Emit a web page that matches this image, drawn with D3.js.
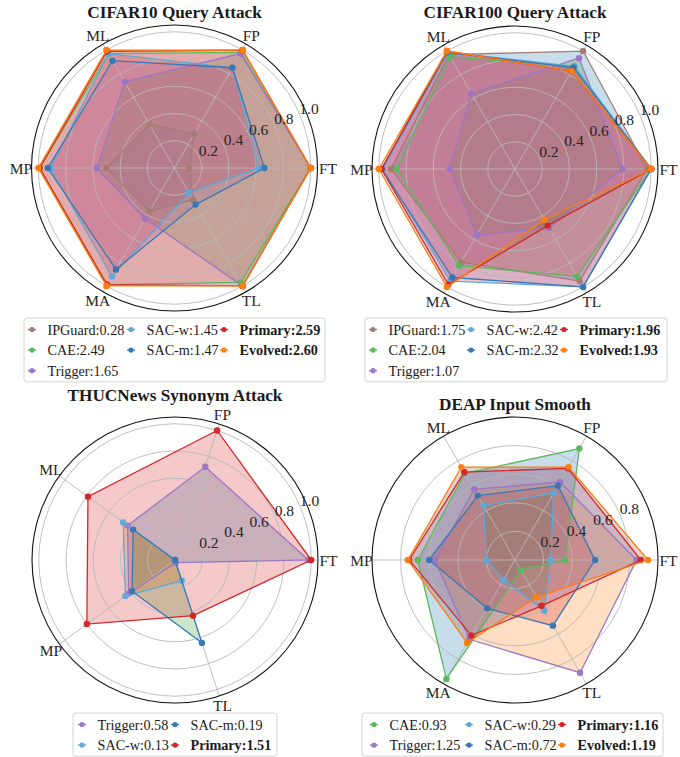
<!DOCTYPE html>
<html>
<head>
<meta charset="utf-8">
<script src="https://cdn.jsdelivr.net/npm/d3@7"></script>
<style>
  html, body { margin: 0; padding: 0; background: #fff; }
  svg { display: block; }
  text { font-family: "Liberation Serif", "Times New Roman", serif; }
</style>
</head>
<body>
<svg id="chart" width="680" height="757"></svg>
<script>
// ---- Axis (metric) names ----
const axesSix = ["FT", "FP", "ML", "MP", "MA", "TL"];
const axesFive = ["FT", "FP", "ML", "MP", "TL"];

// ---- Radial tick labels ----
const ticksFull = [0.2, 0.4, 0.6, 0.8, 1.0];
const ticksShort = [0.2, 0.4, 0.6, 0.8];

// ---- CIFAR10 Query Attack ----
const cifar10Methods = ["IPGuard", "CAE", "Trigger", "SAC-w", "SAC-m", "Primary", "Evolved"];
const cifar10Scores = ["0.28", "2.49", "1.65", "1.45", "1.47", "2.59", "2.60"];
const cifar10IPGuard = [0.11, 0.29, 0.37, 0.50, 0.37, 0.27];
const cifar10CAE = [1.00, 0.98, 0.97, 0.99, 0.99, 0.97];
const cifar10Trigger = [1.00, 0.97, 0.73, 0.57, 0.43, 1.00];
const cifar10SACw = [0.62, 0.85, 0.97, 0.91, 0.92, 0.21];
const cifar10SACm = [0.66, 0.85, 0.91, 0.93, 0.86, 0.31];
const cifar10Primary = [1.00, 1.00, 0.99, 0.99, 0.99, 1.00];
const cifar10Evolved = [1.00, 1.00, 1.00, 1.00, 1.00, 1.00];

// ---- CIFAR100 Query Attack ----
const cifar100Methods = ["IPGuard", "CAE", "Trigger", "SAC-w", "SAC-m", "Primary", "Evolved"];
const cifar100Scores = ["1.75", "2.04", "1.07", "2.42", "2.32", "1.96", "1.93"];
const cifar100IPGuard = [0.97, 1.00, 0.97, 0.91, 0.79, 0.95];
const cifar100CAE = [1.00, 0.87, 0.95, 0.87, 0.82, 0.91];
const cifar100Trigger = [0.79, 0.94, 0.64, 0.48, 0.56, 0.50];
const cifar100SACw = [1.00, 0.87, 0.99, 0.97, 0.95, 1.00];
const cifar100SACm = [1.00, 0.86, 0.99, 0.98, 0.92, 1.00];
const cifar100Primary = [1.00, 0.83, 1.00, 0.98, 0.98, 0.48];
const cifar100Evolved = [1.00, 0.83, 1.00, 1.00, 1.00, 0.43];

// ---- THUCNews Synonym Attack ----
const thucMethods = ["Trigger", "SAC-w", "SAC-m", "Primary"];
const thucScores = ["0.58", "0.13", "0.19", "1.51"];
const thucTrigger = [0.98, 0.72, 0.43, 0.42, 0.02];
const thucSACw = [0.00, 0.00, 0.47, 0.45, 0.16];
const thucSACm = [0.00, 0.00, 0.38, 0.39, 0.64];
const thucPrimary = [1.00, 1.00, 0.79, 0.80, 0.43];

// ---- DEAP Input Smooth ----
const deapMethods = ["CAE", "Trigger", "SAC-w", "SAC-m", "Primary", "Evolved"];
const deapScores = ["0.93", "1.25", "0.29", "0.72", "1.16", "1.19"];
const deapCAE = [0.35, 0.90, 0.70, 0.68, 0.96, 0.08];
const deapTrigger = [0.85, 0.63, 0.57, 0.56, 0.64, 0.91];
const deapSACw = [0.25, 0.54, 0.44, 0.20, 0.16, 0.41];
const deapSACm = [0.56, 0.60, 0.52, 0.60, 0.39, 0.53];
const deapPrimary = [0.88, 0.74, 0.71, 0.74, 0.61, 0.37];
const deapEvolved = [0.93, 0.75, 0.75, 0.75, 0.67, 0.30];

// ---- Styling ----
const lineColor = {
  "IPGuard": "#a47c72",
  "CAE": "#5cb85c",
  "Trigger": "#9d76c6",
  "SAC-w": "#5fa8d8",
  "SAC-m": "#3a78b5",
  "Primary": "#d62728",
  "Evolved": "#ff7f0e"
};
const boldMethods = new Set(["Primary", "Evolved"]);
const fillPalette = d3.schemeCategory10;
const fillOpacity = 0.25;

const panels = [
  {
    title: "CIFAR10 Query Attack", axes: axesSix, ticks: ticksFull, rmax: 1.05,
    methods: cifar10Methods, scores: cifar10Scores,
    values: [cifar10IPGuard, cifar10CAE, cifar10Trigger, cifar10SACw, cifar10SACm, cifar10Primary, cifar10Evolved],
    cx: 174.5, cy: 168, R: 143, titleY: 18,
    legend: { x: 24, y: 318, w: 301, cols: 3, colX: [8, 107, 200] }
  },
  {
    title: "CIFAR100 Query Attack", axes: axesSix, ticks: ticksFull, rmax: 1.05,
    methods: cifar100Methods, scores: cifar100Scores,
    values: [cifar100IPGuard, cifar100CAE, cifar100Trigger, cifar100SACw, cifar100SACm, cifar100Primary, cifar100Evolved],
    cx: 515, cy: 169, R: 143, titleY: 18,
    legend: { x: 365, y: 318, w: 302, cols: 3, colX: [8, 106, 199] }
  },
  {
    title: "THUCNews Synonym Attack", axes: axesFive, ticks: ticksFull, rmax: 1.05,
    methods: thucMethods, scores: thucScores,
    values: [thucTrigger, thucSACw, thucSACm, thucPrimary],
    cx: 175, cy: 560, R: 143, titleY: 401,
    legend: { x: 73, y: 713, w: 204, cols: 2, colX: [9, 102] }
  },
  {
    title: "DEAP Input Smooth", axes: axesSix, ticks: ticksShort, rmax: 1.0,
    methods: deapMethods, scores: deapScores,
    values: [deapCAE, deapTrigger, deapSACw, deapSACm, deapPrimary, deapEvolved],
    cx: 515, cy: 560, R: 143, titleY: 410,
    legend: { x: 362, y: 713, w: 301, cols: 3, colX: [12, 107, 200] }
  }
];

// Column-major legend placement: the first (n % cols) columns take one extra row
function legendSlots(n, cols) {
  const rows = Math.ceil(n / cols);
  const big = n % cols === 0 ? cols : n % cols;
  const slots = [];
  let col = 0, row = 0;
  for (let i = 0; i < n; i++) {
    slots.push({ col, row });
    row++;
    const h = col < big ? rows : rows - 1;
    if (row >= h) { col++; row = 0; }
  }
  return { rows, slots };
}

const svg = d3.select("#chart");

panels.forEach(p => {
  const g = svg.append("g").attr("transform", `translate(${p.cx},${p.cy})`);
  const n = p.axes.length;
  const r = d3.scaleLinear().domain([0, p.rmax]).range([0, p.R]);
  // d3 radial angles run clockwise from 12 o'clock; first axis sits at 3 o'clock, then counter-clockwise
  const angle = d3.scaleLinear().domain([0, n]).range([Math.PI / 2, Math.PI / 2 - 2 * Math.PI]);
  const px = (i, v) => r(v) * Math.sin(angle(i));
  const py = (i, v) => -r(v) * Math.cos(angle(i));

  const radial = d3.lineRadial()
    .angle((d, i) => angle(i))
    .radius(d => r(d))
    .curve(d3.curveLinearClosed);

  // Filled areas (lowest layer)
  g.append("g").selectAll("path")
    .data(p.values)
    .join("path")
    .attr("d", d => radial(d))
    .attr("fill", (d, i) => fillPalette[i % 10])
    .attr("fill-opacity", fillOpacity)
    .attr("stroke", "none");

  // Grid rings and spokes
  const grid = g.append("g").attr("fill", "none").attr("stroke", "#b8b8b8").attr("stroke-width", 0.9);
  grid.selectAll("circle")
    .data(p.ticks)
    .join("circle")
    .attr("r", d => r(d));
  grid.selectAll("line")
    .data(d3.range(n))
    .join("line")
    .attr("x1", 0).attr("y1", 0)
    .attr("x2", i => px(i, p.rmax))
    .attr("y2", i => py(i, p.rmax));

  // Outer frame
  g.append("circle").attr("r", r(p.rmax)).attr("fill", "none").attr("stroke", "#111").attr("stroke-width", 1.1);

  // Series outlines and markers
  p.values.forEach((vals, si) => {
    const c = lineColor[p.methods[si]];
    g.append("path")
      .attr("d", radial(vals))
      .attr("fill", "none")
      .attr("stroke", c)
      .attr("stroke-width", 1.3)
      .attr("stroke-linejoin", "miter");
    g.append("g").selectAll("circle")
      .data(vals)
      .join("circle")
      .attr("cx", (v, i) => px(i, v))
      .attr("cy", (v, i) => py(i, v))
      .attr("r", 3.2)
      .attr("fill", c);
  });

  // Radial tick labels along 22.5 degrees
  const tickAng = Math.PI / 8;
  g.append("g").selectAll("text")
    .data(p.ticks)
    .join("text")
    .attr("x", d => r(d) * Math.cos(tickAng) - 1)
    .attr("y", d => -r(d) * Math.sin(tickAng) - 2)
    .attr("font-size", 15.5)
    .attr("fill", "#262626")
    .text(d => d3.format(".1f")(d));

  // Axis labels
  g.append("g").selectAll("text")
    .data(p.axes)
    .join("text")
    .attr("x", (d, i) => (p.R + 10.5) * Math.sin(angle(i)))
    .attr("y", (d, i) => -(p.R + 10.5) * Math.cos(angle(i)))
    .attr("text-anchor", "middle")
    .attr("dominant-baseline", "central")
    .attr("font-size", 15.5)
    .attr("fill", "#262626")
    .text(d => d);

  // Title
  svg.append("text")
    .attr("x", p.cx)
    .attr("y", p.titleY)
    .attr("text-anchor", "middle")
    .attr("font-size", 17.2)
    .attr("font-weight", "bold")
    .attr("fill", "#1a1a1a")
    .text(p.title);

  // Legend
  const L = p.legend;
  const { rows, slots } = legendSlots(p.methods.length, L.cols);
  const rowH = 20.6;
  const lg = svg.append("g").attr("transform", `translate(${L.x},${L.y})`);
  lg.append("rect")
    .attr("x", 0).attr("y", 0)
    .attr("width", L.w).attr("height", rows * rowH + 2)
    .attr("rx", 3)
    .attr("fill", "#fff").attr("fill-opacity", 0.8)
    .attr("stroke", "#d4d4d4").attr("stroke-width", 1);
  p.methods.forEach((m, i) => {
    const { col, row } = slots[i];
    const x0 = L.colX[col], y0 = 11.5 + row * rowH;
    const c = lineColor[m];
    lg.append("line").attr("x1", x0 - 4).attr("x2", x0 + 4).attr("y1", y0).attr("y2", y0)
      .attr("stroke", c).attr("stroke-width", 1.3);
    lg.append("circle").attr("cx", x0).attr("cy", y0).attr("r", 2.6).attr("fill", c);
    lg.append("text")
      .attr("x", x0 + 15.5).attr("y", y0)
      .attr("dominant-baseline", "central")
      .attr("font-size", 14.2)
      .attr("font-weight", boldMethods.has(m) ? "bold" : "normal")
      .attr("fill", "#1a1a1a")
      .text(`${m}:${p.scores[i]}`);
  });
});
</script>
</body>
</html>
